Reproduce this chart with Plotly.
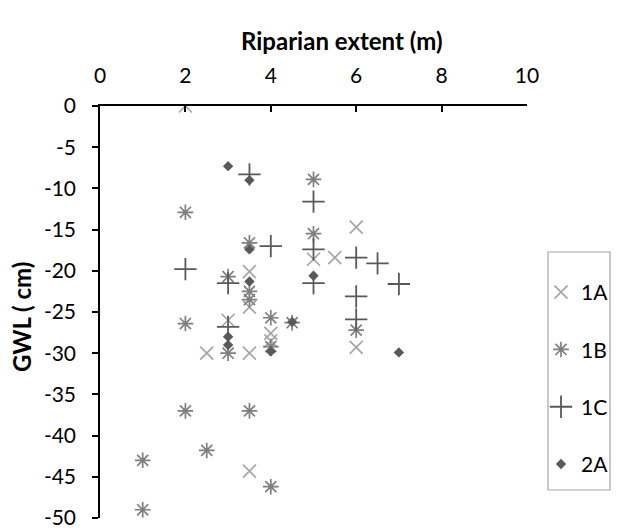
import plotly.graph_objects as go

# Riparian extent (m) and GWL (cm) per group
x_1a = [2, 3.5, 3, 2.5, 3.5, 3.5, 4, 4, 5.5, 5, 6, 6, 3.5]
y_1a = [0, -20.1, -26.0, -30, -30, -24.4, -27.6, -28.5, -18.4, -18.6, -14.7, -29.3, -44.3]

x_1b = [2, 3.5, 3, 3.5, 3.5, 2, 3, 2, 3.5, 2.5, 1, 1, 4, 4, 4.5, 5, 5, 6, 4]
y_1b = [-12.9, -16.6, -20.7, -22.5, -23.5, -26.4, -30, -37, -37, -41.8, -43, -49, -25.7, -29.2, -26.3, -8.9, -15.5, -27.2, -46.2]

x_1c = [3.5, 2, 3, 3, 4, 5, 5, 5, 6, 6.5, 7, 6, 6]
y_1c = [-8.3, -19.8, -21.5, -26.8, -17.0, -11.6, -17.4, -21.5, -18.4, -19.1, -21.6, -23.1, -25.9]

x_2a = [3, 3.5, 3.5, 3.5, 3, 3, 4, 4.5, 5, 7]
y_2a = [-7.3, -9.0, -17.4, -21.3, -28.0, -29.0, -29.8, -26.2, -20.6, -29.9]

x_ticks = [0, 2, 4, 6, 8, 10]
y_ticks = [0, -5, -10, -15, -20, -25, -30, -35, -40, -45, -50]

FONT = "Lato, Open Sans, sans-serif"

W, H = 618, 532
ML, MR, MT, MB = 100, 91, 106, 14
plot_w = W - ML - MR
plot_h = H - MT - MB


def px_x(p):
    return (p - ML) / plot_w


def px_y(p):
    return (H - MB - p) / plot_h


fig = go.Figure()
series = [
    ("1A", x_1a, y_1a, "x-thin-open", "#a6a6a6", 13, 1.7),
    ("1B", x_1b, y_1b, "asterisk-open", "#7f7f7f", 13, 1.7),
    ("1C", x_1c, y_1c, "cross-thin-open", "#595959", 16, 1.8),
    ("2A", x_2a, y_2a, "diamond", "#595959", 8, 0),
]
for name, xs, ys, sym, col, sz, lw in series:
    fig.add_trace(go.Scatter(
        x=xs, y=ys, mode="markers", name=name, legendgroup=name,
        marker=dict(symbol=sym, color=col, size=sz,
                    line=dict(color=col, width=lw)),
    ))

fig.update_layout(
    width=W, height=H,
    margin=dict(l=ML, r=MR, t=MT, b=MB, autoexpand=False),
    paper_bgcolor="white", plot_bgcolor="white",
    font=dict(family=FONT, size=21, color="#000000"),
    showlegend=True,
    legend=dict(
        x=px_x(541), y=px_y(272), xanchor="left", yanchor="top",
        borderwidth=0, bgcolor="rgba(0,0,0,0)",
        tracegroupgap=27, itemwidth=30,
        font=dict(size=21),
    ),
    xaxis=dict(
        side="top", range=[0, 10], tickvals=x_ticks,
        ticktext=[str(v) for v in x_ticks],
        showgrid=False, zeroline=False, automargin=False,
        showline=True, linecolor="#000000", linewidth=1.5,
        ticks="inside", ticklen=6, tickcolor="#000000", tickwidth=1.5,
        ticklabelstandoff=13,
        tickfont=dict(size=21),
    ),
    yaxis=dict(
        range=[-50, 0], tickvals=y_ticks,
        ticktext=[str(v) for v in y_ticks],
        showgrid=False, zeroline=False, automargin=False,
        showline=True, linecolor="#000000", linewidth=1.5,
        ticks="outside", ticklen=6, tickcolor="#000000", tickwidth=1.5,
        ticklabelstandoff=12,
        tickfont=dict(size=21),
    ),
    annotations=[
        dict(text="<b>Riparian extent (m)</b>", x=px_x(341), xref="paper",
             y=px_y(40), yref="paper", xanchor="center", yanchor="middle",
             showarrow=False, font=dict(size=24)),
        dict(text="<b>GWL ( cm)</b>", x=px_x(21), xref="paper",
             y=px_y(317), yref="paper", yanchor="middle",
             textangle=-90, showarrow=False,
             xanchor="center", font=dict(size=24)),
    ],
    shapes=[
        dict(type="rect", xref="paper", yref="paper",
             x0=px_x(548), x1=px_x(610), y0=px_y(490), y1=px_y(252),
             line=dict(color="#a6a6a6", width=1.2)),
    ],
)

fig.write_html("out.html")
